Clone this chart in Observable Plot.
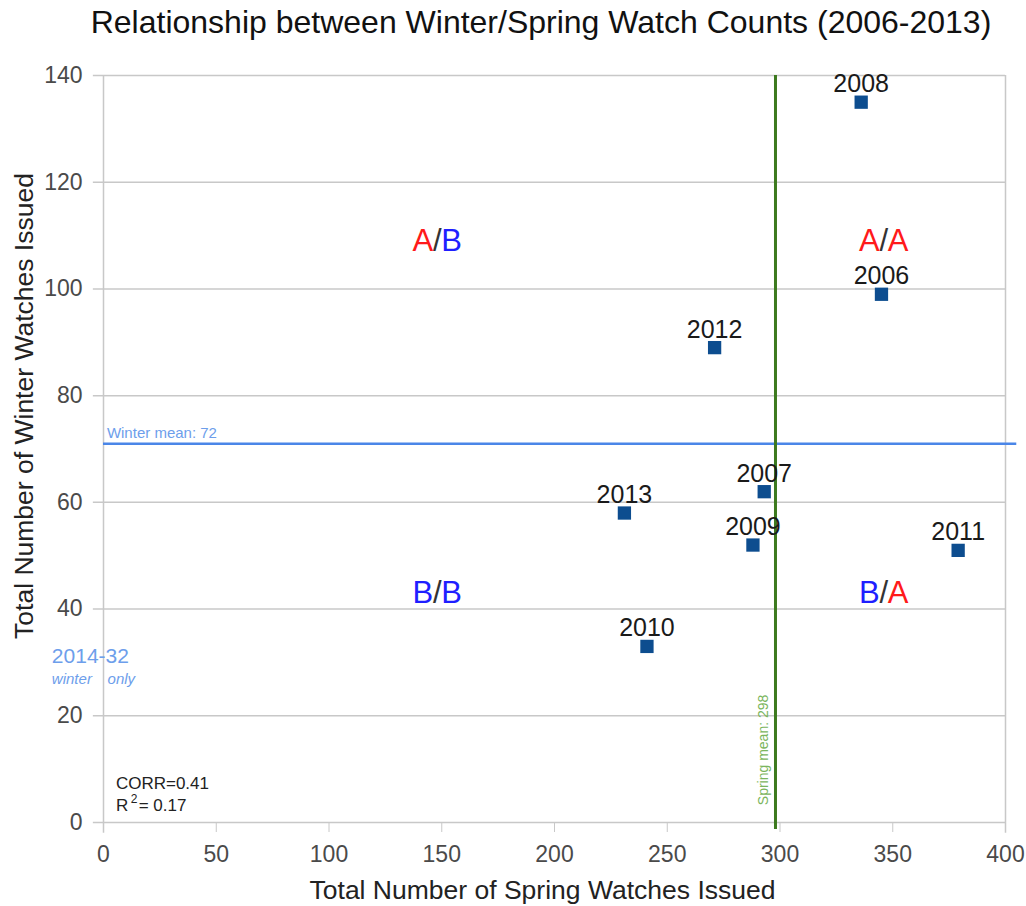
<!DOCTYPE html>
<html>
<head>
<meta charset="utf-8">
<script src="https://cdn.jsdelivr.net/npm/d3@7"></script>
<script src="https://cdn.jsdelivr.net/npm/@observablehq/plot@0.6"></script>
<style>
  body { margin: 0; background: #fff; }
  #title { width: 1026px; height: 50px; box-sizing: border-box; padding-left: 56px; text-align: center;
           font: 32px "Liberation Sans", Arial, sans-serif; line-height: 44px; color: #111; white-space: nowrap; }
  svg { display: block; }
</style>
</head>
<body>
<div id="title">Relationship between Winter/Spring Watch Counts (2006-2013)</div>
<div id="chart"></div>
<script>
const years  = ["2006", "2007", "2008", "2009", "2010", "2011", "2012", "2013"];
const spring = [345, 293, 336, 288, 241, 379, 271, 231];
const winter = [99, 62, 135, 52, 33, 51, 89, 58];

const xTicks = [0, 50, 100, 150, 200, 250, 300, 350, 400];
const yTicks = [0, 20, 40, 60, 80, 100, 120, 140];

const springMean = 298;
const winterMean = 71;

const quadX = [148, 346, 148, 346];
const quadY = [109, 109, 43, 43];
const quadFirst = ["A", "A", "B", "B"];
const quadSecond = ["B", "A", "B", "A"];

const points = years.map((yr, i) => ({year: yr, spring: spring[i], winter: winter[i]}));
const quads = quadX.map((x, i) => ({x, y: quadY[i], a: quadFirst[i], b: quadSecond[i]}));
const letterColor = l => l === "A" ? "#ff1a1a" : "#1f1fff";

const sans = "Liberation Sans, Arial, sans-serif";

const chart = Plot.plot({
  width: 1026,
  height: 856,
  marginTop: 25,
  marginBottom: 84,
  marginLeft: 103,
  marginRight: 21,
  x: {domain: [0, 400]},
  y: {domain: [0, 140]},
  style: {fontFamily: sans, background: "#fff"},
  marks: [
    Plot.ruleY(yTicks, {x1: -4.5, x2: 400, stroke: "#c8c8c8", strokeWidth: 1.5}),
    Plot.ruleX([0, 400], {y1: -2, y2: 140, stroke: "#c8c8c8", strokeWidth: 1.5}),
    Plot.axisX({ticks: xTicks, tickSize: 10, tickPadding: 13, fontSize: 23,
                stroke: "#c8c8c8", fill: "#4a4a4a", label: null}),
    Plot.axisY({ticks: yTicks, tickSize: 0, tickPadding: 21, fontSize: 23,
                fill: "#4a4a4a", label: null}),
    Plot.ruleY([winterMean], {x1: 0, x2: 405, stroke: "#4a86e8", strokeWidth: 2.5}),
    Plot.text(["Winter mean: 72"], {x: 1.5, y: winterMean, dy: -10, text: d => d, textAnchor: "start",
                fontSize: 15, fill: "#6d9eeb"}),
    Plot.ruleX([springMean], {y1: -1.3, y2: 140, stroke: "#3d7a1f", strokeWidth: 3}),
    Plot.text(["Spring mean: 298"], {x: springMean, y: 13.6, dx: -12, rotate: -90, text: d => d,
                fontSize: 14, fill: "#7ab55c"}),
    Plot.dot(points, {x: "spring", y: "winter", symbol: "square", r: 7.5, fill: "#0d4d8f", stroke: "none"}),
    Plot.text(points, {x: "spring", y: "winter", text: "year", dy: -18, fontSize: 25, fill: "#1a1a1a"}),
    Plot.text(quads, {x: "x", y: "y", text: () => "/", fontSize: 31, fill: "#333"}),
    Plot.text(quads, {x: "x", y: "y", text: "a", dx: -4, textAnchor: "end", fontSize: 31, fill: d => letterColor(d.a)}),
    Plot.text(quads, {x: "x", y: "y", text: "b", dx: 4, textAnchor: "start", fontSize: 31, fill: d => letterColor(d.b)}),
    Plot.text(["2014-32"], {x: -22.9, y: 31.1, text: d => d, textAnchor: "start", fontSize: 21, fill: "#6d9eeb"}),
    Plot.text(["winter"], {x: -22.9, y: 26.8, text: d => d, textAnchor: "start", fontSize: 15, fontStyle: "italic", fill: "#6d9eeb"}),
    Plot.text(["only"], {x: 1.8, y: 26.8, text: d => d, textAnchor: "start", fontSize: 15, fontStyle: "italic", fill: "#6d9eeb"}),
    Plot.text(["CORR=0.41"], {x: 5.5, y: 7.26, text: d => d, textAnchor: "start", fontSize: 17, fill: "#222"}),
    Plot.text(["R"], {x: 5.5, y: 3.1, text: d => d, textAnchor: "start", fontSize: 17, fill: "#222"}),
    Plot.text(["2"], {x: 12.1, y: 4.4, text: d => d, textAnchor: "start", fontSize: 12, fill: "#222"}),
    Plot.text(["= 0.17"], {x: 15.6, y: 3.1, text: d => d, textAnchor: "start", fontSize: 17, fill: "#222"}),
    Plot.text(["Total Number of Spring Watches Issued"], {frameAnchor: "bottom", text: d => d, dx: -12, dy: 68,
                textAnchor: "middle", lineAnchor: "middle", fontSize: 26.5, fill: "#222"}),
    Plot.text(["Total Number of Winter Watches Issued"], {frameAnchor: "left", text: d => d, dx: -79, dy: -43,
                textAnchor: "middle", lineAnchor: "middle", rotate: -90, fontSize: 26.5, fill: "#222"})
  ]
});
document.getElementById("chart").appendChild(chart);
</script>
</body>
</html>
